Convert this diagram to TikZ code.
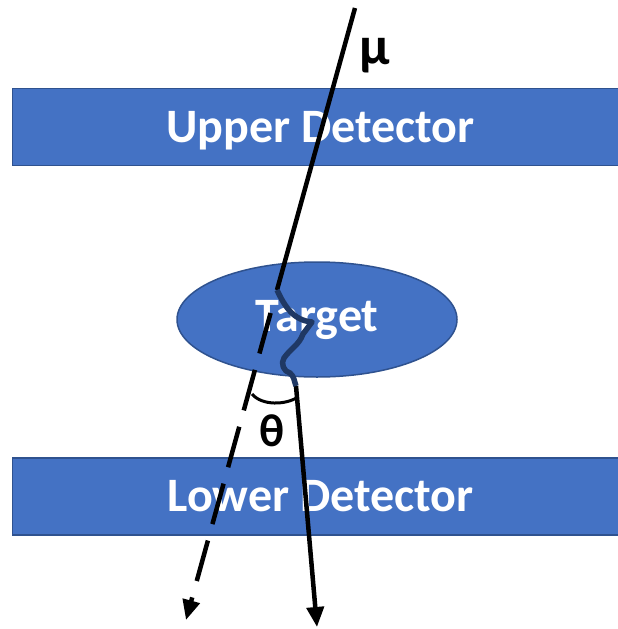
\documentclass[tikz,border=0pt]{standalone}
\usepackage{fontspec}
\setmainfont{Carlito}
\usetikzlibrary{arrows.meta, shapes.geometric, positioning}

\definecolor{detblue}{HTML}{4472C4}
\definecolor{detedge}{HTML}{2F528F}
\definecolor{trackblue}{HTML}{1F3864}

\tikzset{
    detector/.style={draw=detedge, fill=detblue, line width=1.5pt, minimum width=616pt, minimum height=77pt, inner sep=0pt, text=white, font=\fontsize{48}{52}\selectfont\bfseries},
    track/.style={line width=4.5pt},
    tip/.style={-{Triangle[length=20pt, width=17pt]}}
}

\begin{document}
\begin{tikzpicture}[x=1pt, y=-1pt]
\useasboundingbox (0,0) rectangle (618,629);

\node[detector, text depth=0pt] (upper) at (320.5,127) {Upper Detector};
\node[detector] (lower) at (320.5,496.5) {Lower Detector};
\node[detector, ellipse, minimum width=280pt, minimum height=115pt] (target) at (317,319.5) {Target};

\coordinate (mu-in) at (355,8);
\coordinate (hit) at (277,290);
\coordinate (ghost-start) at (270.6,313);
\coordinate (ghost-end) at (186,620);
\coordinate (exit) at (296,386);
\coordinate (mu-out) at (317,627);

% incoming muon
\draw[track] (mu-in) -- (hit);
% unscattered direction
\draw[track, tip, dash pattern=on 42pt off 17pt] (ghost-start) -- (ghost-end);
% scattered muon
\draw[track, tip] (exit) -- (mu-out);

% path through the target
\draw[trackblue, line width=5.5pt, line join=round]
    (hit) to[out=-65, in=175] (312,322) -- (303,334)
    to[out=-110, in=55] (284,358) to[out=-125, in=170] (290,373) to[out=-40, in=110] (exit);

% scattering angle
\draw[line width=3pt] (252,394) .. controls (262,406) and (286,405) .. (298,397);

\node[font=\fontsize{54}{58}\selectfont\bfseries] (mu) at (375,56) {μ};
\node[font=\fontsize{46}{50}\selectfont\bfseries] (theta) at (272,431) {θ};

\end{tikzpicture}
\end{document}
